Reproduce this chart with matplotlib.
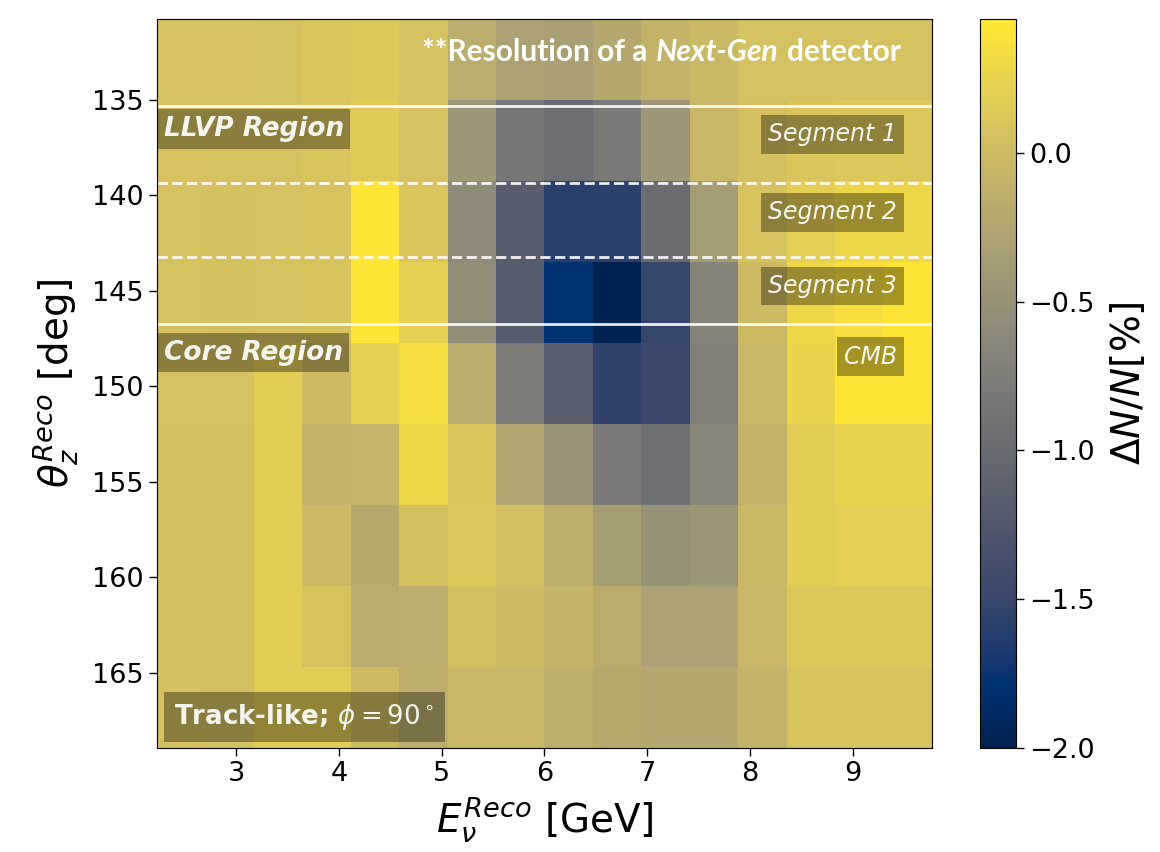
import numpy as np
import matplotlib
matplotlib.use('Agg')
import matplotlib.pyplot as plt
from matplotlib.offsetbox import TextArea, HPacker, AnchoredOffsetbox

# binning (reco energy in GeV, reco zenith angle in deg)
E_edges = np.linspace(2.23, 9.77, 17)
theta_edges = np.linspace(130.76, 168.93, 10)

# Delta N / N [%], rows from 131 deg (top) to 169 deg (bottom)
dN = np.array([
    [0.07, 0.07, 0.06, 0.10, 0.13, 0.06, -0.17, -0.30, -0.33, -0.22, -0.10, -0.03, 0.06, 0.06, 0.06, 0.06],
    [0.07, 0.06, 0.06, 0.09, 0.16, 0.06, -0.44, -0.83, -0.97, -0.81, -0.44, -0.05, 0.05, 0.10, 0.12, 0.12],
    [0.06, 0.05, 0.06, 0.08, 0.42, 0.10, -0.58, -1.18, -1.60, -1.58, -0.98, -0.37, 0.08, 0.20, 0.28, 0.28],
    [0.06, 0.05, 0.06, 0.08, 0.42, 0.22, -0.55, -1.20, -1.78, -2.00, -1.51, -0.67, 0.00, 0.28, 0.36, 0.41],
    [0.06, 0.06, 0.18, 0.00, 0.22, 0.35, -0.19, -0.78, -1.17, -1.55, -1.47, -0.72, -0.05, 0.26, 0.42, 0.43],
    [0.05, 0.04, 0.19, -0.09, -0.07, 0.28, 0.10, -0.25, -0.48, -0.79, -0.92, -0.65, -0.10, 0.18, 0.25, 0.25],
    [0.05, 0.04, 0.19, -0.02, -0.21, 0.05, 0.12, 0.04, -0.16, -0.35, -0.50, -0.45, -0.04, 0.18, 0.20, 0.20],
    [0.05, 0.04, 0.19, 0.08, -0.19, -0.17, 0.04, 0.00, -0.10, -0.19, -0.30, -0.30, -0.05, 0.13, 0.13, 0.13],
    [0.05, 0.04, 0.18, 0.18, 0.00, -0.15, -0.05, -0.05, -0.16, -0.21, -0.23, -0.23, -0.10, 0.08, 0.08, 0.08],
])

#segment boundaries in zenith
seg_lines = [135.3, 139.35, 143.2, 146.75]
seg_styles = ['-', '--', '--', '-']
seg_labels = ['Segment 1', 'Segment 2', 'Segment 3', 'CMB']
seg_label_y = [0.8416, 0.7346, 0.6337, 0.537]
cb_ticks = [0.0, -0.5, -1.0, -1.5, -2.0]

fig = plt.figure(figsize=(11.6, 8.52), dpi=100)
ax = fig.add_axes([0.1353, 0.1221, 0.668, 0.8556])
cax = fig.add_axes([0.8448, 0.1221, 0.031, 0.8556])

mesh = ax.pcolormesh(E_edges, theta_edges, dN, cmap='cividis', vmin=-2.0, vmax=0.45)
ax.set_xlim(E_edges[0], E_edges[-1])
ax.set_ylim(theta_edges[-1], theta_edges[0])
ax.set_xticks([3, 4, 5, 6, 7, 8, 9])
ax.set_yticks([135, 140, 145, 150, 155, 160, 165])
ax.tick_params(labelsize=19.5, length=6, width=1)
ax.set_xlabel(r'$E_{\nu}^{Reco}$ [GeV]', fontsize=28, labelpad=6)
ax.set_ylabel(r'$\theta_{z}^{Reco}$ [deg]', fontsize=28, labelpad=8)

for yl, ls in zip(seg_lines, seg_styles):
    ax.axhline(yl, color='white', ls=ls, lw=2, alpha=0.9)

box = dict(boxstyle='square,pad=0.3', facecolor='black', edgecolor='none', alpha=0.35)
txtc = (1, 1, 1, 0.92)
for lab, yy in zip(seg_labels, seg_label_y):
    ax.text(0.955, yy, lab, transform=ax.transAxes, ha='right', va='center',
            fontsize=17, style='italic', color=txtc, bbox=box)

rbox = dict(boxstyle='square,pad=0.25', facecolor='black', edgecolor='none', alpha=0.35)
ax.text(0.0085, 0.849, 'LLVP Region', transform=ax.transAxes, ha='left', va='center',
        fontsize=19, style='italic', weight='bold', color=txtc, bbox=rbox)
ax.text(0.0085, 0.5425, 'Core Region', transform=ax.transAxes, ha='left', va='center',
        fontsize=19, style='italic', weight='bold', color=txtc, bbox=rbox)
ax.text(0.022, 0.0425, r'Track-like; $\phi=90^\circ$', transform=ax.transAxes, ha='left',
        va='center', fontsize=18.7, weight='bold', color=txtc,
        bbox=dict(boxstyle='square,pad=0.4', facecolor='black', edgecolor='none', alpha=0.35))

# title overlay with italic part
tprops = dict(family='Lato', weight='bold', size=21.5, color='white')
parts = [TextArea('**Resolution of a', textprops=tprops),
         TextArea('Next-Gen', textprops=dict(tprops, style='italic')),
         TextArea('detector', textprops=tprops)]
title_box = HPacker(children=parts, align='baseline', pad=0, sep=6)
anch = AnchoredOffsetbox(loc='center', child=title_box, pad=0, borderpad=0, frameon=False,
                         bbox_to_anchor=(0.651, 0.955), bbox_transform=ax.transAxes)
ax.add_artist(anch)

cb = fig.colorbar(mesh, cax=cax)
cb.set_ticks(cb_ticks)
cb.ax.tick_params(labelsize=19.5, length=6, width=1)
cb.set_label(r'$\Delta N/N[\%]$', fontsize=28, labelpad=10)

plt.savefig('out.png', dpi=100)
